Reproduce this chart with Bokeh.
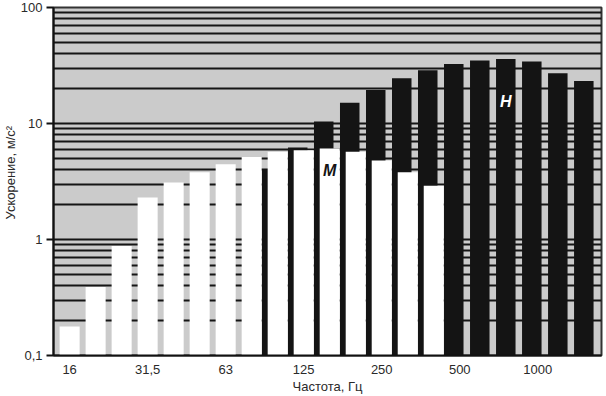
import math
from bokeh.plotting import figure
from bokeh.models import FixedTicker, Range1d, Label, Title
from bokeh.embed import file_html
from bokeh.resources import INLINE

# 1/3-octave bands, Hz
bands = ["16", "20", "25", "31,5", "40", "50", "63", "80", "100", "125", "160",
         "200", "250", "315", "400", "500", "630", "800", "1000", "1250", "1600"]
# series M (white bars), bands 16..400 Hz
m_values = [0.178, 0.39, 0.88, 2.3, 3.1, 3.8, 4.45, 5.15, 5.7, 5.87, 6.08,
            5.7, 4.8, 3.8, 2.9]
# series H (black bars), bands 100..1600 Hz
h_first_band = "100"
h_values = [4.0, 6.2, 10.4, 15.1, 19.4, 24.6, 28.8, 32.6, 35.0, 35.9, 34.3,
            27.1, 23.3]
y_ticks = [0.1, 1, 10, 100]
y_tick_labels = ["0,1", "1", "10", "100"]
x_label_bands = ["16", "31,5", "63", "125", "250", "500", "1000"]

FONT = "Liberation Sans"
TXT = "#2a2a2a"
GRID = "#151515"

m_x = list(range(len(m_values)))
h_start = bands.index(h_first_band)
h_x = [h_start + i - 0.23 for i in range(len(h_values))]

p = figure(width=606, height=396, output_backend="svg", toolbar_location=None,
           y_axis_type="log", x_range=Range1d(-0.62, 20.45),
           y_range=Range1d(0.1, 100),
           min_border_left=51, min_border_right=5, min_border_top=7,
           min_border_bottom=38)

p.background_fill_color = "#cbcbcb"
p.border_fill_color = "white"
p.outline_line_color = "#333333"
p.outline_line_width = 2

p.vbar(x=h_x, top=h_values, bottom=0.1, width=0.75,
       fill_color="#141414", line_color=None)
p.vbar(x=m_x, top=m_values, bottom=0.1, width=0.77,
       fill_color="white", line_color=None)

minor = [m * 10.0 ** e for e in (-1, 0, 1) for m in range(2, 10)]
yt = FixedTicker(ticks=y_ticks, minor_ticks=minor)
p.yaxis.ticker = yt
p.ygrid.ticker = yt
p.ygrid.grid_line_color = GRID
p.ygrid.grid_line_width = 2
p.ygrid.minor_grid_line_color = GRID
p.ygrid.minor_grid_line_width = 2
p.xgrid.visible = False

p.yaxis.major_label_overrides = dict(zip(y_ticks, y_tick_labels))
p.yaxis.major_tick_out = 7
p.yaxis.major_tick_in = 0
p.yaxis.major_tick_line_width = 2
p.yaxis.major_tick_line_color = "#111111"
p.yaxis.minor_tick_line_color = None
p.yaxis.axis_line_width = 2
p.yaxis.axis_line_color = "#111111"
p.yaxis.major_label_text_font = FONT
p.yaxis.major_label_text_font_size = "13px"
p.yaxis.major_label_text_color = TXT
p.yaxis.major_label_standoff = 4

p.add_layout(Title(text="Ускорение, м/с²", align="left", offset=136, standoff=0,
                   text_font=FONT, text_font_size="13px", text_font_style="normal",
                   text_color=TXT), "left")

x_ticks = [bands.index(b) for b in x_label_bands]
p.xaxis.ticker = FixedTicker(ticks=x_ticks)
p.xaxis.major_label_overrides = {i: bands[i] for i in x_ticks}
p.xaxis.major_tick_line_color = None
p.xaxis.minor_tick_line_color = None
p.xaxis.axis_line_width = 2
p.xaxis.axis_line_color = "#111111"
p.xaxis.major_label_text_font = FONT
p.xaxis.major_label_text_font_size = "13px"
p.xaxis.major_label_text_color = TXT
p.xaxis.major_label_standoff = 3
p.xaxis.axis_label = "Частота, Гц"
p.xaxis.axis_label_text_font = FONT
p.xaxis.axis_label_text_font_size = "13px"
p.xaxis.axis_label_text_font_style = "normal"
p.xaxis.axis_label_text_color = TXT
p.xaxis.axis_label_standoff = 2

p.add_layout(Label(x=10, y=3.9, text="М", text_align="center", text_baseline="middle",
                   text_font=FONT, text_font_size="16px", text_font_style="bold italic",
                   text_color="#141414"))
p.add_layout(Label(x=17 - 0.23, y=15.4, text="Н", text_align="center",
                   text_baseline="middle", text_font=FONT, text_font_size="16px",
                   text_font_style="bold italic", text_color="white"))

open("out.html", "w").write(file_html(p, INLINE))
